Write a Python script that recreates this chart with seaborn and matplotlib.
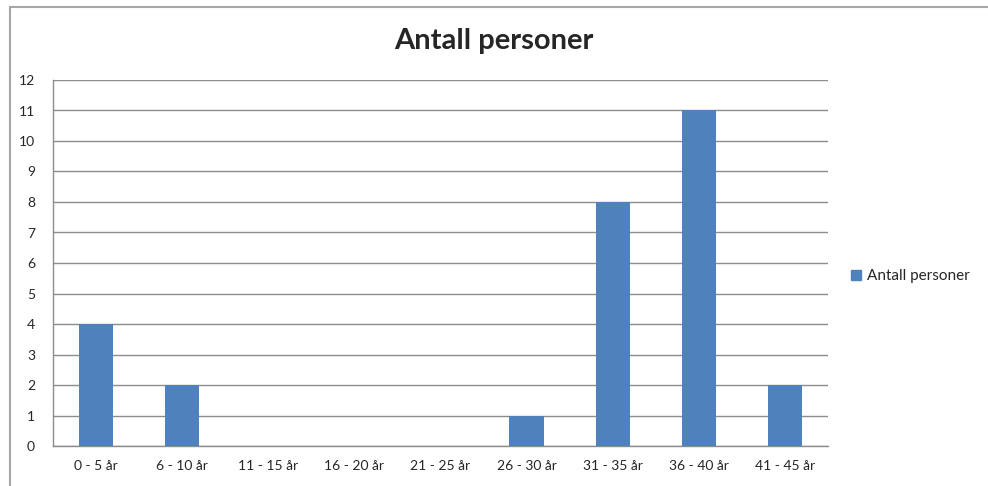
import numpy as np
import pandas as pd
import seaborn as sns
import matplotlib.pyplot as plt
from matplotlib.lines import Line2D

categories = ['0 - 5 år', '6 - 10 år', '11 - 15 år', '16 - 20 år', '21 - 25 år',
              '26 - 30 år', '31 - 35 år', '36 - 40 år', '41 - 45 år']
counts = [4, 2, 0, 0, 0, 1, 8, 11, 2]
series_name = 'Antall personer'
y_ticks = list(range(0, 13))

df = pd.DataFrame({'alder': categories, 'antall': counts})

sns.set_style('white')
plt.rcParams['font.family'] = ['Lato', 'DejaVu Sans']

fig = plt.figure(figsize=(9.88, 4.86), dpi=100)
ax = fig.add_axes([53 / 988, 1 - 446 / 486, (828 - 53) / 988, (446 - 80) / 486])

bar_color = '#4F81BD'
grid_color = '#8C8C8C'

sns.barplot(x='alder', y='antall', data=df, color=bar_color, width=0.4,
            saturation=1, ax=ax, zorder=3, linewidth=0)

ax.set_xlim(-0.5, len(categories) - 0.5)
ax.set_ylim(0, 12)
ax.set_yticks(y_ticks)
ax.yaxis.grid(True, color=grid_color, linewidth=1)
ax.set_axisbelow(True)

# tick marks between the categories
ax.set_xticks(np.arange(len(categories) + 1) - 0.5, minor=False)
ax.set_xticklabels([])
ax.set_xticks(np.arange(len(categories)), minor=True)
ax.set_xticklabels(categories, minor=True)
ax.tick_params(axis='x', which='major', direction='out', length=5, color=grid_color, width=1)
ax.tick_params(axis='x', which='minor', length=0, labelsize=10, pad=10)
ax.tick_params(axis='y', direction='out', length=5, color=grid_color, width=1,
               labelsize=10, pad=8)

for side in ['top', 'right']:
    ax.spines[side].set_visible(False)
for side in ['left', 'bottom']:
    ax.spines[side].set_color(grid_color)
    ax.spines[side].set_linewidth(1)

ax.set_xlabel('')
ax.set_ylabel('')

fig.text(0.5, 1 - 41 / 486, 'Antall personer', ha='center', va='center',
         fontsize=21, fontweight='bold')

handle = Line2D([], [], marker='s', color=bar_color, linestyle='none', markersize=7)
fig.legend([handle], [series_name], loc='center left',
           bbox_to_anchor=(835 / 988, 1 - 276 / 486), frameon=False,
           fontsize=11, handletextpad=0.2, handlelength=1)

# chart area frame
fig.add_artist(Line2D([10 / 988, 1], [1 - 7.5 / 486, 1 - 7.5 / 486],
                      transform=fig.transFigure, color='#A6A6A6', linewidth=1.5))
fig.add_artist(Line2D([10 / 988, 10 / 988], [0, 1 - 7.5 / 486],
                      transform=fig.transFigure, color='#A6A6A6', linewidth=1.5))

fig.savefig('out.png', dpi=100)
